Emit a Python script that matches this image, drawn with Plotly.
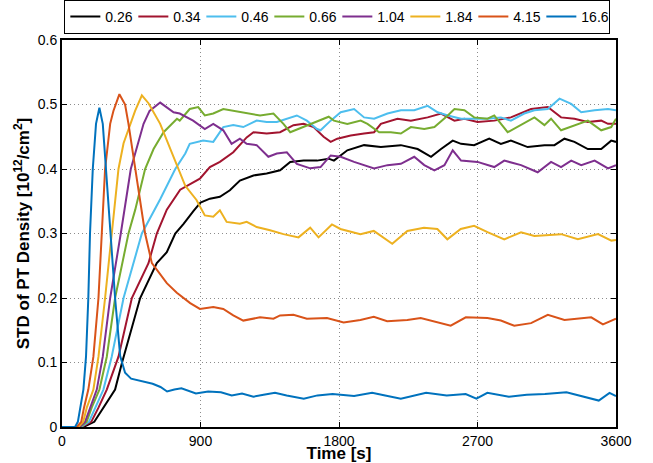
import plotly.graph_objects as go

# ---- data ----
labels = ["0.26", "0.34", "0.46", "0.66", "1.04", "1.84", "4.15", "16.6"]
colors = ["#000000", "#A2142F", "#4DBEEE", "#77AC30", "#7E2F8E", "#EDB120", "#D95319", "#0072BD"]

t_026 = [0, 139, 210, 269, 345, 389, 508, 616, 681, 736, 790, 855, 900, 961, 1026, 1091, 1156, 1244, 1330, 1417,
         1483, 1570, 1657, 1733, 1767, 1854, 1963, 2072, 2202, 2311, 2398, 2463, 2539, 2593, 2678, 2776, 2852,
         2917, 3026, 3135, 3200, 3265, 3330, 3417, 3504, 3569, 3600]
v_026 = [0, 0, 0.008, 0.03, 0.058, 0.099, 0.2, 0.254, 0.271, 0.300, 0.315, 0.335, 0.348, 0.354, 0.357, 0.367, 0.382,
         0.390, 0.393, 0.398, 0.411, 0.413, 0.413, 0.416, 0.413, 0.429, 0.437, 0.434, 0.437, 0.431, 0.419, 0.431,
         0.444, 0.439, 0.437, 0.447, 0.439, 0.444, 0.434, 0.437, 0.437, 0.447, 0.442, 0.431, 0.431, 0.444, 0.442]

t_034 = [0, 128, 190, 237, 291, 367, 454, 562, 616, 681, 768, 833, 896, 961, 1026, 1113, 1200, 1244, 1330, 1417,
         1504, 1570, 1635, 1700, 1746, 1789, 1876, 1963, 2028, 2072, 2180, 2267, 2376, 2463, 2550, 2615, 2700,
         2809, 2917, 3048, 3157, 3243, 3330, 3417, 3504, 3548, 3600]
v_034 = [0, 0, 0.008, 0.03, 0.058, 0.109, 0.2, 0.254, 0.3, 0.337, 0.368, 0.377, 0.385, 0.403, 0.411, 0.426, 0.449,
         0.457, 0.455, 0.457, 0.468, 0.470, 0.465, 0.450, 0.442, 0.447, 0.452, 0.455, 0.457, 0.470, 0.478, 0.475,
         0.480, 0.486, 0.475, 0.478, 0.473, 0.475, 0.480, 0.493, 0.496, 0.480, 0.478, 0.473, 0.475, 0.470, 0.470]

t_046 = [0, 122, 175, 215, 269, 323, 400, 519, 638, 736, 801, 830, 917, 983, 1048, 1113, 1178, 1265, 1330, 1396,
         1461, 1526, 1591, 1657, 1680, 1746, 1811, 1898, 1963, 2028, 2115, 2202, 2289, 2376, 2441, 2507, 2593,
         2678, 2765, 2852, 2917, 3004, 3070, 3157, 3233, 3309, 3374, 3461, 3548, 3600]
v_046 = [0, 0, 0.008, 0.03, 0.058, 0.109, 0.2, 0.3, 0.353, 0.4, 0.424, 0.439, 0.444, 0.442, 0.465, 0.468, 0.465, 0.475,
         0.473, 0.473, 0.478, 0.483, 0.475, 0.462, 0.460, 0.475, 0.488, 0.493, 0.480, 0.478, 0.486, 0.491, 0.491,
         0.498, 0.488, 0.483, 0.478, 0.478, 0.478, 0.480, 0.475, 0.486, 0.491, 0.493, 0.509, 0.501, 0.488, 0.491,
         0.493, 0.491]

t_066 = [0, 117, 160, 193, 243, 291, 345, 432, 476, 540, 595, 660, 747, 765, 830, 885, 928, 983, 1048, 1113, 1200,
         1287, 1374, 1439, 1483, 1570, 1657, 1733, 1767, 1854, 1941, 1985, 2061, 2137, 2202, 2267, 2354, 2420,
         2507, 2550, 2615, 2678, 2765, 2809, 2896, 2983, 3070, 3135, 3178, 3243, 3330, 3417, 3504, 3569, 3600]
v_066 = [0, 0, 0.008, 0.03, 0.058, 0.109, 0.2, 0.3, 0.337, 0.4, 0.431, 0.457, 0.478, 0.475, 0.493, 0.496, 0.483, 0.486,
         0.493, 0.490, 0.486, 0.483, 0.486, 0.470, 0.457, 0.465, 0.473, 0.481, 0.475, 0.470, 0.475, 0.470, 0.457,
         0.457, 0.455, 0.465, 0.462, 0.465, 0.483, 0.493, 0.491, 0.480, 0.478, 0.483, 0.457, 0.468, 0.480, 0.468,
         0.478, 0.460, 0.468, 0.475, 0.460, 0.465, 0.478]

t_104 = [0, 113, 150, 182, 226, 265, 313, 382, 447, 530, 569, 638, 725, 765, 812, 852, 928, 983, 1048, 1102, 1156,
         1200, 1265, 1341, 1396, 1461, 1526, 1613, 1680, 1746, 1811, 1898, 2028, 2115, 2202, 2289, 2354, 2420,
         2485, 2539, 2593, 2700, 2809, 2874, 2983, 3091, 3178, 3243, 3309, 3374, 3461, 3548, 3600]
v_104 = [0, 0, 0.008, 0.03, 0.058, 0.109, 0.2, 0.3, 0.4, 0.47, 0.49, 0.503, 0.488, 0.486, 0.480, 0.475, 0.462, 0.470,
         0.460, 0.439, 0.447, 0.439, 0.437, 0.419, 0.424, 0.426, 0.408, 0.401, 0.403, 0.421, 0.419, 0.411, 0.401,
         0.406, 0.408, 0.419, 0.406, 0.398, 0.406, 0.429, 0.413, 0.411, 0.403, 0.413, 0.406, 0.395, 0.411, 0.403,
         0.413, 0.406, 0.413, 0.401, 0.406]

t_184 = [0, 106, 138, 161, 204, 237, 280, 323, 367, 400, 443, 475, 519, 562, 638, 725, 801, 874, 928, 983, 1026,
         1070, 1156, 1200, 1265, 1352, 1439, 1537, 1613, 1667, 1754, 1809, 1939, 2026, 2146, 2244, 2352, 2439,
         2504, 2591, 2678, 2765, 2874, 2983, 3070, 3244, 3352, 3483, 3570, 3600]
v_184 = [0, 0, 0.008, 0.03, 0.058, 0.109, 0.2, 0.3, 0.4, 0.44, 0.47, 0.49, 0.514, 0.502, 0.47, 0.42, 0.374, 0.352,
         0.328, 0.326, 0.336, 0.318, 0.315, 0.318, 0.310, 0.305, 0.299, 0.294, 0.309, 0.294, 0.314, 0.307, 0.299,
         0.304, 0.284, 0.304, 0.309, 0.307, 0.291, 0.307, 0.312, 0.302, 0.291, 0.302, 0.296, 0.299, 0.291, 0.299,
         0.289, 0.290]

t_415 = [0, 96, 125, 143, 171, 204, 237, 258, 280, 313, 334, 373, 410, 432, 475, 540, 584, 681, 746, 833, 896, 983,
         1048, 1113, 1178, 1287, 1374, 1417, 1504, 1591, 1722, 1830, 1939, 2026, 2113, 2244, 2331, 2526, 2624,
         2765, 2852, 2939, 3048, 3157, 3265, 3439, 3515, 3600]
v_415 = [0, 0, 0.008, 0.03, 0.058, 0.109, 0.2, 0.3, 0.4, 0.47, 0.49, 0.516, 0.5, 0.47, 0.4, 0.3, 0.254, 0.223, 0.208,
         0.192, 0.183, 0.186, 0.183, 0.173, 0.165, 0.170, 0.168, 0.173, 0.174, 0.168, 0.169, 0.162, 0.166, 0.171,
         0.164, 0.166, 0.169, 0.157, 0.170, 0.169, 0.165, 0.157, 0.161, 0.174, 0.166, 0.170, 0.159, 0.168]

t_166 = [0, 85, 103, 117, 139, 156, 171, 182, 200, 221, 243, 265, 286, 317, 345, 378, 410, 449, 500, 589, 640, 683,
         730, 776, 870, 950, 1033, 1103, 1170, 1244, 1310, 1384, 1460, 1571, 1660, 1758, 1898, 2015, 2100, 2202,
         2366, 2500, 2623, 2693, 2764, 2904, 3020, 3138, 3278, 3380, 3488, 3558, 3600]
v_166 = [0, 0, 0.008, 0.03, 0.058, 0.109, 0.2, 0.3, 0.4, 0.47, 0.495, 0.47, 0.4, 0.3, 0.2, 0.11, 0.084, 0.075, 0.072,
         0.067, 0.062, 0.055, 0.058, 0.060, 0.052, 0.055, 0.054, 0.049, 0.052, 0.047, 0.050, 0.053, 0.049, 0.044,
         0.049, 0.051, 0.048, 0.053, 0.049, 0.044, 0.053, 0.049, 0.051, 0.044, 0.053, 0.047, 0.050, 0.051, 0.054,
         0.048, 0.041, 0.053, 0.048]

times = [t_026, t_034, t_046, t_066, t_104, t_184, t_415, t_166]
values = [v_026, v_034, v_046, v_066, v_104, v_184, v_415, v_166]

x_ticks = [0, 900, 1800, 2700, 3600]
y_ticks = [0, 0.1, 0.2, 0.3, 0.4, 0.5, 0.6]
y_ticktext = ["0", "0.1", "0.2", "0.3", "0.4", "0.5", "0.6"]

FONT = "Liberation Sans, Arial, Helvetica, sans-serif"

fig = go.Figure()
for lab, col, tt, vv in zip(labels, colors, times, values):
    fig.add_trace(go.Scatter(x=tt, y=vv, mode="lines", name=lab,
                             line=dict(color=col, width=2)))

axis_common = dict(
    showline=True, linecolor="black", linewidth=2, mirror="ticks",
    ticks="inside", ticklen=5, tickcolor="black", tickwidth=1,
    showgrid=True, gridcolor="#8c8c8c", griddash="1px,3px", gridwidth=1,
    zeroline=False, automargin=False, tickfont=dict(family=FONT, size=14, color="black"),
)

fig.update_xaxes(range=[0, 3600], tickvals=x_ticks, ticktext=[str(v) for v in x_ticks],
                 title=dict(text="<b>Time [s]</b>", font=dict(family=FONT, size=17, color="black"), standoff=4),
                 **axis_common)
fig.update_yaxes(range=[0, 0.6], tickvals=y_ticks, ticktext=y_ticktext,
                 title=dict(text="<b>STD of PT Density [10<sup>12</sup>/cm<sup>2</sup>]</b>",
                            font=dict(family=FONT, size=17, color="black"), standoff=4),
                 **axis_common)

fig.update_layout(
    width=653, height=463,
    margin=dict(l=62, r=37, t=40, b=36, autoexpand=False),
    plot_bgcolor="white", paper_bgcolor="white",
    font=dict(family=FONT, size=14, color="black"),
    legend=dict(orientation="h", x=0.497, xanchor="center", y=1.0155, yanchor="bottom",
                bordercolor="black", borderwidth=1, bgcolor="white",
                font=dict(family=FONT, size=14, color="black"),
                itemwidth=30, entrywidth=23, entrywidthmode="pixels", tracegroupgap=0),
    showlegend=True,
)

fig.write_html("out.html", config={"displayModeBar": False},
               post_script="document.body.style.margin='0';")
